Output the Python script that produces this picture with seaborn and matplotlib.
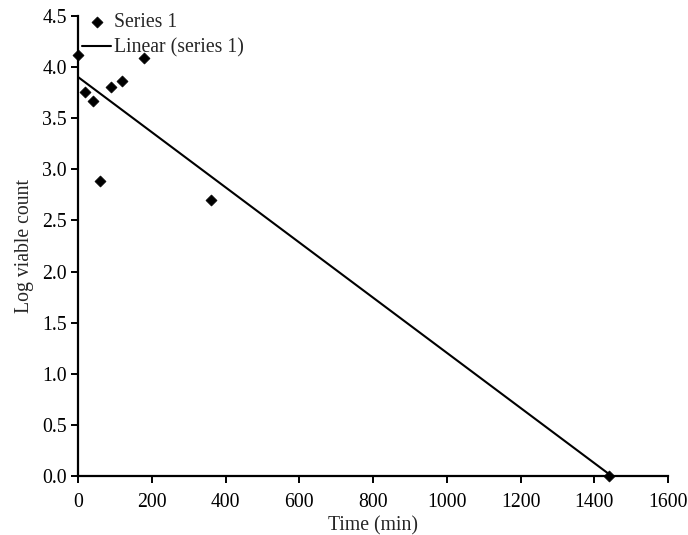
import numpy as np
import pandas as pd
import matplotlib
matplotlib.use("Agg")
import matplotlib.pyplot as plt
import seaborn as sns

# Data
time_min = [0, 20, 40, 60, 90, 120, 180, 360, 1440]
log_count = [4.12, 3.76, 3.67, 2.89, 3.81, 3.86, 4.09, 2.70, 0.0]
x_ticks = [0, 200, 400, 600, 800, 1000, 1200, 1400, 1600]
y_ticks = [0.0, 0.5, 1.0, 1.5, 2.0, 2.5, 3.0, 3.5, 4.0, 4.5]

df = pd.DataFrame({"time": time_min, "log": log_count})

# linear trendline (least squares, like the spreadsheet one)
slope, intercept = np.polyfit(df["time"], df["log"], 1)
fit = pd.DataFrame({"time": [min(time_min), max(time_min)]})
fit["log"] = intercept + slope * fit["time"]

sns.set_style("ticks")
plt.rcParams["font.family"] = ["Liberation Serif", "DejaVu Serif"]
fs = 14.2

fig = plt.figure(figsize=(6.88, 5.35), dpi=100)
ax = fig.add_axes([0.1134, 0.1103, 0.8576, 0.8597])

sns.lineplot(data=fit, x="time", y="log", color="black", linewidth=1.5,
             label="Linear (series 1)", ax=ax)
sns.scatterplot(data=df, x="time", y="log", marker="D", s=32, color="black",
                edgecolor="black", label="Series 1", ax=ax, zorder=3, clip_on=False)

ax.set_xlim(0, 1600)
ax.set_ylim(0, 4.5)
ax.set_xticks(x_ticks)
ax.set_yticks(y_ticks)
ax.set_yticklabels([f"{v:.1f}" for v in y_ticks])
ax.set_xlabel("Time (min)", fontsize=fs, labelpad=3)
ax.set_ylabel("Log viable count", fontsize=fs, labelpad=6)
ax.tick_params(axis="both", direction="out", length=5, width=1.4, labelsize=fs,
               color="black", labelcolor="black", pad=3)
ax.tick_params(axis="x", pad=7)
for side in ["top", "right"]:
    ax.spines[side].set_visible(False)
for side in ["left", "bottom"]:
    ax.spines[side].set_linewidth(1.6)
    ax.spines[side].set_color("black")

# legend order: Series 1 first, then the trendline
handles, labels = ax.get_legend_handles_labels()
order = [labels.index("Series 1"), labels.index("Linear (series 1)")]
ax.legend([handles[i] for i in order], [labels[i] for i in order],
          loc="upper left", bbox_to_anchor=(0.119, 0.975), bbox_transform=fig.transFigure,
          frameon=False, fontsize=fs, handlelength=1.5, handletextpad=0.15,
          labelspacing=0.3, borderaxespad=0, borderpad=0)

fig.savefig("out.png", dpi=100, facecolor="white")
